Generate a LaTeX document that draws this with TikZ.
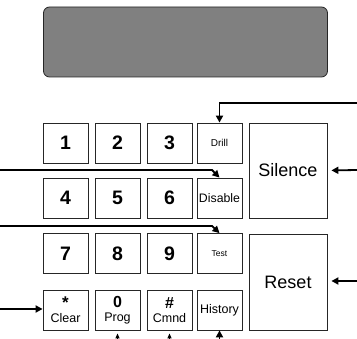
\documentclass[tikz,border=0pt]{standalone}
\usepackage{fontspec}
\setmainfont{Liberation Sans}
\usetikzlibrary{arrows.meta}
\begin{document}
\begin{tikzpicture}[x=1pt,y=-1pt,
  key/.style={draw=black!85, line width=0.8pt, fill=white, minimum width=45pt, minimum height=40pt, inner sep=0pt, align=center},
  big/.style={key, minimum width=78pt, minimum height=95pt, font=\fontsize{18}{18}\selectfont},
  digit/.style={font=\fontsize{19.5}{19.5}\selectfont\bfseries},
  small/.style={font=\fontsize{#1}{#1}\selectfont},
  dual/.style={font=\fontsize{12.5}{14}\selectfont},
  conn/.style={line width=1.8pt, -{Triangle[length=7pt,width=7pt]}},
  tick/.style={line width=1pt, -{Triangle[length=5pt,width=4pt]}},
]
\useasboundingbox (0,0) rectangle (357,339);
\clip (0,0) rectangle (357,339);

\node[draw=black!85, line width=0.8pt, rounded corners=6pt, fill=gray, minimum width=284pt, minimum height=70pt] (display) at (185.5,42) {};

% row 1
\node[key, digit] (k1) at (65.5,143) {1};
\node[key, digit] (k2) at (117.5,143) {2};
\node[key, digit] (k3) at (169.5,143) {3};
\node[key, small=10] (drill) at (219.5,143) {Drill};
% row 2
\node[key, digit] (k4) at (65.5,198) {4};
\node[key, digit] (k5) at (117.5,198) {5};
\node[key, digit] (k6) at (169.5,198) {6};
\node[key, small=12.3] (disable) at (219.5,198) {Disable};
% row 3
\node[key, digit] (k7) at (65.5,253.5) {7};
\node[key, digit] (k8) at (117.5,253.5) {8};
\node[key, digit] (k9) at (169.5,253.5) {9};
\node[key, small=8.5] (test) at (219.5,253.5) {Test};
% row 4
\node[key, dual] (clear) at (65.5,310) {{\fontsize{17}{14}\selectfont\bfseries *}\\Clear};
\node[key, dual] (prog) at (117.5,310) {{\fontsize{16}{14}\selectfont\bfseries 0}\\Prog};
\node[key, dual] (cmnd) at (169.5,310) {{\fontsize{16}{14}\selectfont\bfseries \#}\\Cmnd};
\node[key, small=12.5] (history) at (219.5,310) {History};
% big keys
\node[big] (silence) at (288,170.5) {Silence};
\node[big, minimum height=96pt] (reset) at (288,282) {Reset};

% connector ends
\coordinate (dr) at (357,103);
\coordinate (sr) at (357,170);
\coordinate (rr) at (357,281);
\coordinate (l1) at (0,170);
\coordinate (l2) at (0,226);
\coordinate (lc) at (0,309);
\coordinate (bp) at (117.5,350);
\coordinate (bc) at (169.5,350);
\coordinate (bh) at (219.5,350);

\draw[conn] (dr) -| (drill.north);
\draw[conn, shorten >=4pt] (sr) -- (silence.east);
\draw[conn, shorten >=4pt] (rr) -- (reset.east |- rr);
\draw[conn] (l1) -- (212,170) -- (disable.north);
\draw[conn] (l2) -- (212,226) -- (test.north);
\draw[conn] (lc) -- (clear.west |- lc);
\draw[tick, shorten >=3pt] (bp) -- (prog.south);
\draw[tick, shorten >=3pt] (bc) -- (cmnd.south);
\draw[conn] (bh) -- (history.south);
\end{tikzpicture}
\end{document}
